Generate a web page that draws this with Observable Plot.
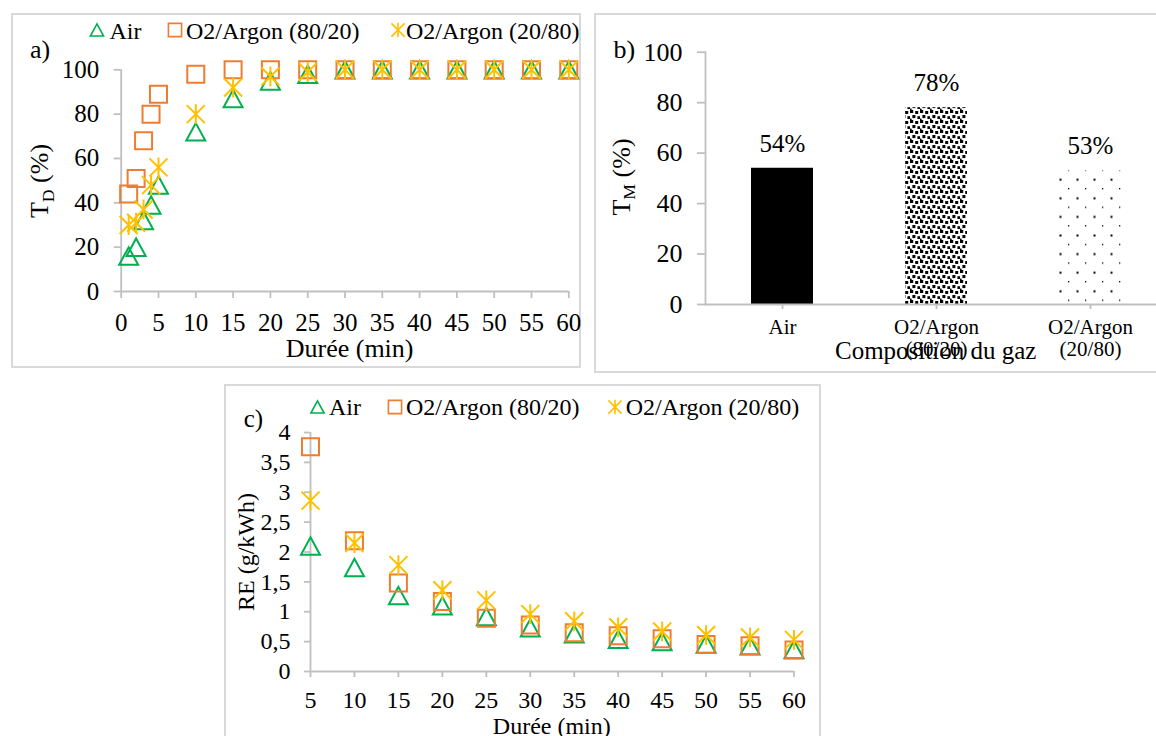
<!DOCTYPE html>
<html><head><meta charset="utf-8">
<script src="https://cdn.jsdelivr.net/npm/d3@7"></script>
<script src="https://cdn.jsdelivr.net/npm/@observablehq/plot@0.6"></script>
<style>
html,body{margin:0;padding:0;background:#fff;overflow:hidden;}
#root{position:relative;width:1156px;height:736px;overflow:hidden;font-family:'Liberation Serif','Times New Roman',Times,serif;}
.box{position:absolute;border:2px solid #D9D9D9;box-sizing:border-box;}
.panel{position:absolute;}
</style></head>
<body><div id="root">
<div class="box" style="left:11px;top:13px;width:570px;height:355px"></div>
<div class="box" style="left:594px;top:13px;width:600px;height:360px"></div>
<div class="box" style="left:224px;top:384px;width:597px;height:400px"></div>
<div class="panel" id="pa" style="left:0px;top:0px"></div>
<div class="panel" id="pb" style="left:590px;top:0px"></div>
<div class="panel" id="pc" style="left:220px;top:380px"></div>
</div>
<script>
// ---------- data ----------
const seriesNames = ["Air", "O2/Argon (80/20)", "O2/Argon (20/80)"];
// panel a : T_D (%) vs durée (min)
const timesA = [1, 2, 3, 4, 5, 10, 15, 20, 25, 30, 35, 40, 45, 50, 55, 60];
const tdAir  = [16, 20, 32, 39, 48, 72, 87, 95, 98, 100, 100, 100, 100, 100, 100, 100];
const tdO280 = [44, 51, 68, 80, 89, 98, 100, 100, 100, 100, 100, 100, 100, 100, 100, 100];
const tdO220 = [30, 31, 37, 48, 56, 80, 92, 97, 99, 100, 100, 100, 100, 100, 100, 100];
const xTicksA = [0, 5, 10, 15, 20, 25, 30, 35, 40, 45, 50, 55, 60];
const yTicksA = [0, 20, 40, 60, 80, 100];
// panel b : T_M (%) by gas composition
const gases = ["Air", "O2/Argon (80/20)", "O2/Argon (20/80)"];
const tmValues = [54, 78, 53];
const yTicksB = [0, 20, 40, 60, 80, 100];
// panel c : RE (g/kWh) vs durée (min)
const timesC = [5, 10, 15, 20, 25, 30, 35, 40, 45, 50, 55, 60];
const reAir  = [2.10, 1.74, 1.27, 1.10, 0.92, 0.73, 0.63, 0.54, 0.50, 0.46, 0.43, 0.37];
const reO280 = [3.76, 2.19, 1.48, 1.17, 0.89, 0.78, 0.65, 0.60, 0.55, 0.45, 0.43, 0.36];
const reO220 = [2.86, 2.15, 1.78, 1.36, 1.19, 0.96, 0.84, 0.74, 0.67, 0.61, 0.57, 0.53];
const xTicksC = [5, 10, 15, 20, 25, 30, 35, 40, 45, 50, 55, 60];
const yTicksC = [0, 0.5, 1, 1.5, 2, 2.5, 3, 3.5, 4];

// ---------- styles ----------
const FONT = "'Liberation Serif','Times New Roman',Times,serif";
const GRAY = "#BFBFBF";
const C_AIR = "#00B050", C_80 = "#ED7D31", C_20 = "#FFC000";

const triangle = {draw(ctx, size) { const r = Math.sqrt(size / Math.PI);
  ctx.moveTo(0, -0.92 * r); ctx.lineTo(r, 0.92 * r); ctx.lineTo(-r, 0.92 * r); ctx.closePath(); }};
const square = {draw(ctx, size) { const r = Math.sqrt(size / Math.PI);
  ctx.rect(-r, -r, 2 * r, 2 * r); }};
const star = {draw(ctx, size) { const r = Math.sqrt(size / Math.PI);
  ctx.moveTo(-r, -r); ctx.lineTo(r, r); ctx.moveTo(r, -r); ctx.lineTo(-r, r);
  ctx.moveTo(0, -1.1 * r); ctx.lineTo(0, 1.1 * r); }};
const symbols = [triangle, square, star];
const colors = [C_AIR, C_80, C_20];

function dots(xs, ys, k, r) {
  return Plot.dot(xs, {x: d => d, y: (d, i) => ys[i], symbol: symbols[k], r,
    stroke: colors[k], strokeWidth: 2, fill: "none"});
}
function txt(svg, x, y, str, size, anchor = "start") {
  return svg.append("text").attr("x", x).attr("y", y).attr("font-family", FONT)
    .attr("font-size", size).attr("text-anchor", anchor).attr("fill", "black").text(str);
}
function yTitle(svg, x, y, main, sub, rest, size) {
  const t = svg.append("text").attr("transform", `translate(${x},${y}) rotate(-90)`)
    .attr("font-family", FONT).attr("font-size", size).attr("text-anchor", "middle").attr("fill", "black");
  t.append("tspan").text(main);
  if (sub) {
    t.append("tspan").attr("font-size", size * 0.68).attr("dy", size * 0.22).text(sub);
    t.append("tspan").attr("dy", -size * 0.22).text(rest);
  }
  return t;
}
function legend(svg, cy, base, items, size) {
  items.forEach((it, k) => {
    svg.append("path").attr("transform", `translate(${it.sx},${cy})`)
      .attr("d", d3.symbol(symbols[k], Math.PI * 6.6 * 6.6)())
      .attr("fill", "none").attr("stroke", colors[k]).attr("stroke-width", 1.6);
    txt(svg, it.tx, base, seriesNames[k], size);
  });
}
const commaFmt = d => String(d).replace(".", ",");

// ---------- panel a ----------
const A = Plot.plot({
  width: 590, height: 370,
  marginLeft: 120.7, marginRight: 21.7, marginTop: 69.3, marginBottom: 79,
  style: {fontFamily: FONT, background: "transparent", overflow: "visible", color: "black"},
  x: {domain: [0, 60]}, y: {domain: [0, 100]},
  marks: [
    Plot.ruleX([0], {stroke: GRAY, strokeWidth: 1.8}),
    Plot.ruleY([0], {stroke: GRAY, strokeWidth: 1.8}),
    Plot.axisX({ticks: xTicksA, tickSize: 7, tickPadding: 15, stroke: GRAY, strokeWidth: 1.8,
      fill: "black", fontSize: 25, label: null, tickFormat: d => String(d)}),
    Plot.axisY({ticks: yTicksA, tickSize: 7, tickPadding: 15, stroke: GRAY, strokeWidth: 1.8,
      fill: "black", fontSize: 25, label: null, tickFormat: d => String(d)}),
    dots(timesA, tdAir, 0, 9.5),
    dots(timesA, tdO280, 1, 8.5),
    dots(timesA, tdO220, 2, 9)
  ]
});
document.getElementById("pa").appendChild(A);
{
  const s = d3.select(A);
  txt(s, 30, 58, "a)", 26);
  yTitle(s, 48, 181, "T", "D", " (%)", 26);
  txt(s, 349.6, 357, "Durée (min)", 26, "middle");
  legend(s, 30, 38.5, [{sx: 97, tx: 109.5}, {sx: 175, tx: 186}, {sx: 398, tx: 406}], 24);
}

// ---------- panel b ----------
const B = Plot.plot({
  width: 566, height: 380,
  marginLeft: 115, marginRight: 0, marginTop: 51.7, marginBottom: 76,
  style: {fontFamily: FONT, background: "transparent", overflow: "visible", color: "black"},
  x: {type: "band", domain: gases, range: [115, 577], paddingInner: 0.6, paddingOuter: 0.3},
  y: {domain: [0, 100]},
  marks: [
    Plot.barY(gases, {filter: d => d === gases[0], x: d => d, y: d => tmValues[gases.indexOf(d)], fill: "black"}),
    Plot.barY(gases, {filter: d => d === gases[1], x: d => d, y: d => tmValues[gases.indexOf(d)], fill: "url(#patDense)"}),
    Plot.barY(gases, {filter: d => d === gases[2], x: d => d, y: d => tmValues[gases.indexOf(d)], fill: "url(#patSparse)"}),
    Plot.ruleY([0], {stroke: GRAY, strokeWidth: 1.8}),
    Plot.frame({anchor: "left", stroke: GRAY, strokeWidth: 1.8}),
    Plot.axisX({tickSize: 5, tickPadding: 8, stroke: GRAY, strokeWidth: 1.8, fill: "black",
      fontSize: 21, lineHeight: 1.08, label: null, tickFormat: d => d.replace(" (", "\n(")}),
    Plot.axisY({ticks: yTicksB, tickSize: 8, tickPadding: 15, stroke: GRAY, strokeWidth: 1.8,
      fill: "black", fontSize: 26, label: null, tickFormat: d => String(d)}),
    Plot.text(gases, {x: d => d, y: d => tmValues[gases.indexOf(d)], text: d => tmValues[gases.indexOf(d)] + "%",
      dy: -24.5, lineAnchor: "middle", fontSize: 25, fill: "black"})
  ]
});
document.getElementById("pb").appendChild(B);
{
  const s = d3.select(B);
  s.insert("defs", ":first-child").html(
    `<pattern id="patDense" patternUnits="userSpaceOnUse" width="10" height="10">
       <rect x="0" y="0" width="3.2" height="3" fill="#000"/>
       <rect x="5.2" y="1" width="3" height="3" fill="#000"/>
       <rect x="2.4" y="5" width="3" height="3.1" fill="#000"/>
       <rect x="7.4" y="6.2" width="3" height="2.8" fill="#000"/>
       <rect x="0" y="8.6" width="1.6" height="1.4" fill="#000"/>
     </pattern>
     <pattern id="patSparse" patternUnits="userSpaceOnUse" width="17" height="18.6">
       <rect x="2" y="2" width="1.3" height="1.3" fill="#000"/>
       <rect x="10.5" y="11.3" width="2" height="2" fill="#000"/>
     </pattern>`);
  txt(s, 23.5, 58, "b)", 26);
  yTitle(s, 39.5, 177, "T", "M", " (%)", 26);
  txt(s, 345.7, 359, "Composition du gaz", 25, "middle");
}

// ---------- panel c ----------
const C = Plot.plot({
  width: 610, height: 356,
  marginLeft: 90, marginRight: 36.5, marginTop: 52, marginBottom: 65,
  style: {fontFamily: FONT, background: "transparent", overflow: "visible", color: "black"},
  x: {domain: [5, 60]}, y: {domain: [0, 4]},
  marks: [
    Plot.ruleX([5], {stroke: GRAY, strokeWidth: 1.8}),
    Plot.ruleY([0], {stroke: GRAY, strokeWidth: 1.8}),
    Plot.axisX({ticks: xTicksC, tickSize: 6, tickPadding: 13, stroke: GRAY, strokeWidth: 1.8,
      fill: "black", fontSize: 24, label: null, tickFormat: commaFmt}),
    Plot.axisY({ticks: yTicksC, tickSize: 6, tickPadding: 14, stroke: GRAY, strokeWidth: 1.8,
      fill: "black", fontSize: 24, label: null, tickFormat: commaFmt}),
    dots(timesC, reAir, 0, 9.5),
    dots(timesC, reO280, 1, 8.5),
    dots(timesC, reO220, 2, 9)
  ]
});
document.getElementById("pc").appendChild(C);
{
  const s = d3.select(C);
  txt(s, 23.7, 47, "c)", 25);
  yTitle(s, 33.5, 172, "RE (g/kWh)", null, null, 24);
  txt(s, 331.8, 354, "Durée (min)", 24, "middle");
  legend(s, 27, 35, [{sx: 97.5, tx: 109}, {sx: 175, tx: 186}, {sx: 395, tx: 405.7}], 24);
}
</script>
</body></html>
